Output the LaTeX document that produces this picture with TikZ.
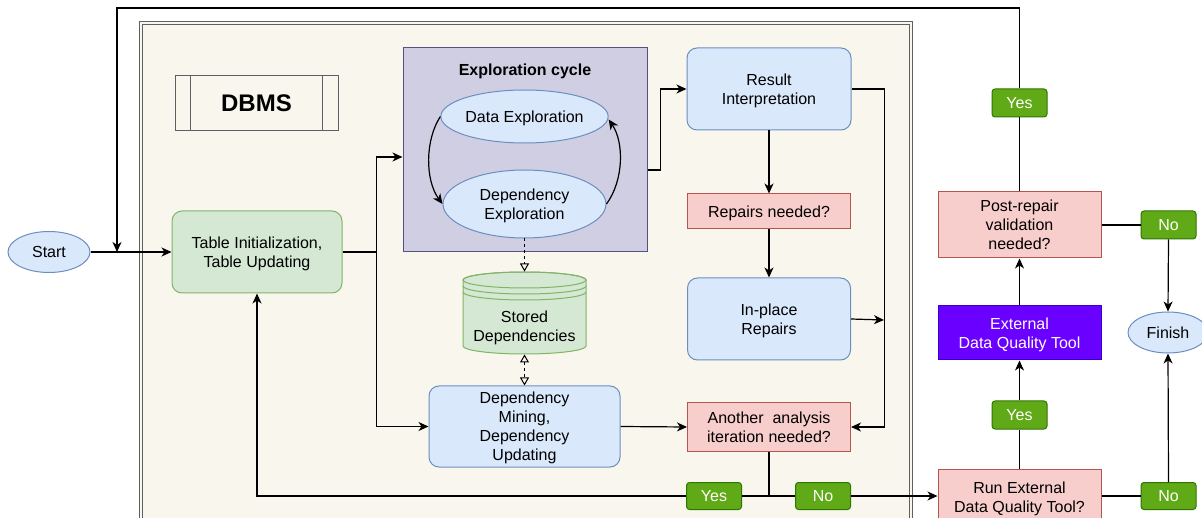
\documentclass[tikz,border=0pt]{standalone}
\usepackage{fontspec}
\setmainfont{Liberation Sans}
\usetikzlibrary{shapes.geometric,arrows.meta}
\definecolor{bfill}{HTML}{DAE8FC}
\definecolor{bstroke}{HTML}{6C8EBF}
\definecolor{gfill}{HTML}{D5E8D4}
\definecolor{gstroke}{HTML}{82B366}
\definecolor{rfill}{HTML}{F8CECC}
\definecolor{rstroke}{HTML}{B85450}
\definecolor{pfill}{HTML}{D0CEE2}
\definecolor{pstroke}{HTML}{56517E}
\definecolor{lfill}{HTML}{60A917}
\definecolor{lstroke}{HTML}{2D7600}
\definecolor{vfill}{HTML}{6A00FF}
\definecolor{vstroke}{HTML}{3700CC}
\definecolor{cfill}{HTML}{F9F7ED}
\definecolor{cstroke}{HTML}{36393D}
\begin{document}
\begin{tikzpicture}[x=1pt,y=-1pt,
  base/.style={font=\fontsize{16}{19}\selectfont, align=center, inner sep=0pt, line width=1pt, text depth=0pt},
  bluebox/.style={base, draw=bstroke, fill=bfill, rounded corners=10pt},
  greenbox/.style={base, draw=gstroke, fill=gfill, rounded corners=10pt},
  redbox/.style={base, draw=rstroke, fill=rfill},
  oval/.style={base, ellipse, draw=bstroke, fill=bfill},
  lab/.style={base, draw=lstroke, fill=lfill, text=white, rounded corners=3pt, minimum width=55pt, minimum height=27pt},
  conn/.style={line width=1.2pt, black},
  arr/.style={conn, -{Stealth[length=10pt,width=9pt,inset=3pt]}},
  darr/.style={line width=1pt, dash pattern=on 3pt off 3pt, -{Triangle[open,length=8pt,width=9pt]}},
  ddarr/.style={line width=1pt, dash pattern=on 3pt off 3pt, {Triangle[open,length=8pt,width=9pt]}-{Triangle[open,length=8pt,width=9pt]}},
]
\useasboundingbox (0,0) rectangle (1202,518);
\clip (0,0) rectangle (1202,518);
\fill[white] (0,0) rectangle (1202,518);

% DBMS container (double border)
\draw[cstroke!80, line width=1pt, fill=cfill] (139,22) rectangle (912,540);
\draw[cstroke!80, line width=1pt] (142,25) rectangle (909,540);

% DBMS title (process shape)
\node[base, draw=cstroke!80, fill=cfill, minimum width=163pt, minimum height=55pt, font=\fontsize{24}{28}\selectfont\bfseries] (dbms) at (256.5,103.5) {DBMS};
\draw[cstroke!80, line width=1pt] ([xshift=16pt]dbms.north west) -- ([xshift=16pt]dbms.south west);
\draw[cstroke!80, line width=1pt] ([xshift=-16pt]dbms.north east) -- ([xshift=-16pt]dbms.south east);

% Exploration cycle
\node[base, draw=pstroke, fill=pfill, minimum width=244pt, minimum height=204pt] (expl) at (525,150) {};
\node[base, font=\fontsize{16}{19}\selectfont\bfseries] (explt) at (525,70) {Exploration cycle};
\node[oval, minimum width=163pt, minimum height=53pt] (de) at (524.5,116.5) {Data Exploration};
\node[oval, minimum width=163pt, minimum height=68pt] (dx) at (524.5,204) {Dependency\\Exploration};

% Nodes
\node[oval, minimum width=82pt, minimum height=41pt] (start) at (49,252) {Start};
\node[greenbox, minimum width=170pt, minimum height=82pt] (table) at (257,252) {Table Initialization,\\Table Updating};

% Stored dependencies (datastore)
\node[base, minimum width=123pt, minimum height=82pt] (sd) at (524.5,313) {};
\filldraw[draw=gstroke, fill=gfill, line width=1pt] (463,346) arc[start angle=180,end angle=0,x radius=61.5,y radius=8] -- (586,280) arc[start angle=0,end angle=-180,x radius=61.5,y radius=8] -- cycle;
\draw[gstroke, line width=1pt] (524.5,280) ellipse [x radius=61.5, y radius=8];
\draw[gstroke, line width=1pt] (463,286) arc[start angle=180,end angle=0,x radius=61.5,y radius=8];
\draw[gstroke, line width=1pt] (463,292) arc[start angle=180,end angle=0,x radius=61.5,y radius=8];
\node[base] (sdt) at (524.5,326) {Stored\\Dependencies};

\node[bluebox, minimum width=191pt, minimum height=81pt] (dm) at (524.5,426.5) {Dependency\\Mining,\\Dependency\\Updating};
\node[bluebox, minimum width=164pt, minimum height=82pt] (ri) at (769,89) {Result\\Interpretation};
\node[redbox, minimum width=163pt, minimum height=35pt] (rn) at (769,211.5) {Repairs needed?};
\node[bluebox, minimum width=163pt, minimum height=82pt] (ip) at (769,319) {In-place\\Repairs};
\node[redbox, minimum width=163pt, minimum height=48pt] (an) at (769,427) {Another\ \ analysis\\iteration needed?};
\node[lab] (yesA) at (714,496) {Yes};
\node[lab] (noA) at (823,496) {No};

% Right column
\node[redbox, minimum width=163pt, minimum height=66pt] (pr) at (1019.5,225) {Post-repair\\validation\\needed?};
\node[lab, minimum height=28pt] (yesT) at (1019.5,103) {Yes};
\node[lab, minimum height=28pt] (noR) at (1168.5,225) {No};
\node[base, draw=vstroke, fill=vfill, text=white, minimum width=163pt, minimum height=54pt] (edq) at (1019.5,333) {External\\Data Quality Tool};
\node[oval, minimum width=80pt, minimum height=41pt] (fin) at (1168,332.5) {Finish};
\node[lab, minimum height=28pt] (yesM) at (1019.5,415) {Yes};
\node[redbox, minimum width=163pt, minimum height=56pt] (rq) at (1019.5,497.5) {Run External\\Data Quality Tool?};
\node[lab] (noB) at (1168.5,496) {No};

\coordinate (tl) at (117,8);
\coordinate (loopend) at (117,252);
\coordinate (rbus) at (884,320);
\coordinate (jn) at (769,496);

% Connectors
\draw[arr] (start.east) -- (table.west);
\draw[arr] (table.east) -- ++(34,0) |- ([yshift=-7pt]expl.west);
\draw[arr] (table.east) -- ++(34,0) |- (dm.west);
\draw[arr] ([yshift=-20pt]expl.east) -- ++(13,0) |- (ri.west);
\draw[arr] (de.west) .. controls (425,140) and (425,180) .. (dx.west);
\draw[arr] (dx.east) .. controls (624,180) and (624,142) .. ([yshift=-3pt]de.east);
\draw[darr] (dx.south) -- (sd.north);
\draw[ddarr] (sd.south) -- (dm.north);
\draw[arr] (ri.south) -- (rn.north);
\draw[arr] (rn.south) -- (ip.north);
\draw[arr] (ri.east) -- ++(33,0) |- (an.east);
\draw[arr] (ip.east) -- (rbus);
\draw[arr] (dm.east) -- (an.west);
\draw[conn] (an.south) -- (jn);
\draw[conn] (jn) -- (yesA.east);
\draw[arr] (yesA.west) -| (table.south);
\draw[conn] (jn) -- (noA.west);
\draw[arr] (noA.east) -- (noA.east -| rq.west);
\draw[conn] (rq.north) -- (yesM.south);
\draw[arr] (yesM.north) -- (edq.south);
\draw[arr] (edq.north) -- (pr.south);
\draw[conn] (pr.north) -- (yesT.south);
\draw[arr] (yesT.north) |- (tl) -- (loopend);
\draw[conn] (pr.east) -- (noR.west);
\draw[arr] (noR.south) -- (fin.north);
\draw[conn] (rq.east |- noB.west) -- (noB.west);
\draw[arr] (noB.north) -- (fin.south);
\end{tikzpicture}
\end{document}
